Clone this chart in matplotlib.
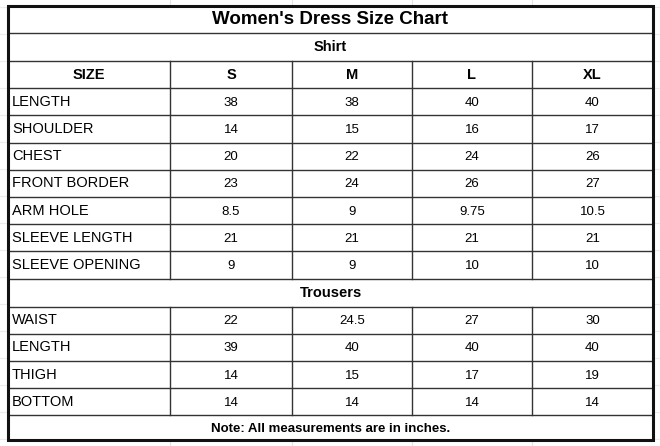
import matplotlib
matplotlib.use("Agg")
import matplotlib.pyplot as plt

title = "Women's Dress Size Chart"
sizes = ["S", "M", "L", "XL"]
shirt_labels = ["LENGTH", "SHOULDER", "CHEST", "FRONT BORDER", "ARM HOLE", "SLEEVE LENGTH", "SLEEVE OPENING"]
shirt_values = [["38", "38", "40", "40"], ["14", "15", "16", "17"], ["20", "22", "24", "26"],
                ["23", "24", "26", "27"], ["8.5", "9", "9.75", "10.5"], ["21", "21", "21", "21"],
                ["9", "9", "10", "10"]]
trouser_labels = ["WAIST", "LENGTH", "THIGH", "BOTTOM"]
trouser_values = [["22", "24.5", "27", "30"], ["39", "40", "40", "40"], ["14", "15", "17", "19"],
                  ["14", "14", "14", "14"]]
note = "Note: All measurements are in inches."

W, H = 660, 446
fig = plt.figure(figsize=(W / 100, H / 100), dpi=100)
ax = fig.add_axes([0, 0, 1, 1])
ax.set_xlim(0, W); ax.set_ylim(H, 0); ax.axis("off")

# faint spreadsheet grid in background
for x in [170, 292, 412, 532]:
    ax.plot([x, x], [0, H], color="#e4e4e4", lw=0.8, zorder=0)
for y in range(7, H, 27):
    ax.plot([0, W], [y, y], color="#ececec", lw=0.8, zorder=0)
ax.add_patch(plt.Rectangle((8, 6), 645, 434, facecolor="white", edgecolor="none", zorder=0.5))

cols = [8, 170, 292, 412, 532, 653]
top, rh = 6, 27.2
lc = "#333333"
fs = 10.5
fam = ["Liberation Sans", "DejaVu Sans"]

def hline(y, x0=8, x1=653):
    ax.plot([x0, x1], [y, y], color=lc, lw=1.0, zorder=2)

def vlines(y0, y1):
    for x in cols[1:-1]:
        ax.plot([x, x], [y0, y1], color=lc, lw=1.0, zorder=2)

def row(y, label, vals, bold=False, center_label=False):
    w = "bold" if bold else "normal"
    if center_label:
        ax.text((cols[0] + cols[1]) / 2, y + rh / 2, label, ha="center", va="center", fontsize=fs, weight=w, family=fam)
    else:
        ax.text(cols[0] + 4, y + rh / 2, label, ha="left", va="center", fontsize=fs, weight=w, family=fam)
    for i, v in enumerate(vals):
        ax.text((cols[i + 1] + cols[i + 2]) / 2, y + rh / 2 + (0 if bold else 1), v, ha="center", va="center",
                fontsize=fs if bold else 9.5, weight=w, family=fam)

y = top
ax.text((cols[0] + cols[-1]) / 2, y + 14, title, ha="center", va="center", fontsize=13.5, weight="bold", family=fam)
y += 27; hline(y)
ax.text((cols[0] + cols[-1]) / 2, y + 14, "Shirt", ha="center", va="center", fontsize=fs, weight="bold", family=fam)
y += 28; hline(y)
start = y
row(y, "SIZE", sizes, bold=True, center_label=True)
y += rh; hline(y)
for lab, vals in zip(shirt_labels, shirt_values):
    row(y, lab, vals)
    y += rh; hline(y)
vlines(start, y)
ax.text((cols[0] + cols[-1]) / 2, y + 14, "Trousers", ha="center", va="center", fontsize=fs, weight="bold", family=fam)
y += 28; hline(y)
start = y
for lab, vals in zip(trouser_labels, trouser_values):
    row(y, lab, vals)
    y += rh; hline(y)
vlines(start, y)
ax.text((cols[0] + cols[-1]) / 2, y + 13.5, note, ha="center", va="center", fontsize=9.5, weight="bold", family=fam)

ax.add_patch(plt.Rectangle((8, 6), 645, 434, facecolor="none", edgecolor="#111111", lw=2.2, zorder=3))
fig.savefig("out.png", dpi=100)
